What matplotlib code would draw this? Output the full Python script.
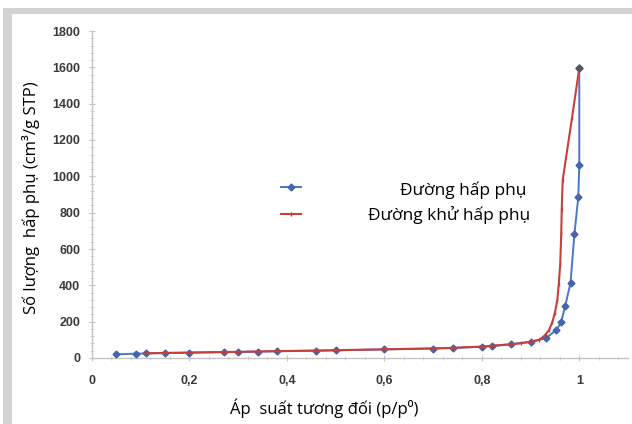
import matplotlib
matplotlib.use('Agg')
from matplotlib import pyplot as plt
from matplotlib.patches import Rectangle
from matplotlib.ticker import MultipleLocator, FuncFormatter

# Đường hấp phụ (adsorption)
ads_x = [0.05, 0.09, 0.11, 0.15, 0.20, 0.27, 0.30, 0.34, 0.38, 0.46, 0.50, 0.60,
         0.70, 0.74, 0.80, 0.82, 0.86, 0.90, 0.932, 0.953, 0.963, 0.971, 0.982,
         0.990, 0.998, 1.0, 1.0]
ads_y = [20, 24, 25, 27, 29, 32, 33, 35, 37, 40, 42, 47,
         52, 55, 62, 66, 75, 88, 110, 154, 198, 286, 413,
         682, 886, 1062, 1596]

# Đường khử hấp phụ (desorption)
des_x = [1.0, 0.985, 0.966, 0.964, 0.963, 0.961, 0.958, 0.955, 0.950, 0.945,
         0.938, 0.930, 0.918, 0.90, 0.88, 0.86, 0.82, 0.80, 0.74, 0.70, 0.60,
         0.50, 0.46, 0.38, 0.34, 0.30, 0.27, 0.20, 0.15, 0.11]
des_y = [1596, 1320, 980, 820, 688, 520, 410, 320, 250, 200,
         154, 126, 100, 90, 82, 76, 67, 63, 56, 53, 48,
         43, 41, 38, 36, 34, 33, 30, 28, 26]

labels = ['Đường hấp phụ', 'Đường khử hấp phụ']

plt.rcParams['font.family'] = ['Open Sans', 'DejaVu Sans']

fig = plt.figure(figsize=(6.32, 4.24), dpi=100)
# khung xám quanh biểu đồ
fig.patches.append(Rectangle((3 / 632, 0), 1, 1 - 8 / 424, transform=fig.transFigure,
                             facecolor='#d3d3d3', edgecolor='none', zorder=-2))
fig.patches.append(Rectangle((12 / 632, 0), 1, 1 - 14 / 424, transform=fig.transFigure,
                             facecolor='white', edgecolor='none', zorder=-1))

ax = fig.add_axes([92 / 632, 1 - 358 / 424, 536 / 632, 327 / 424])
ax.set_zorder(2)
ax.set_facecolor('none')

l1, = ax.plot(ads_x, ads_y, color='#4a78c8', lw=1.4, marker='D', ms=3.5,
              mfc='#4466aa', mec='#4466aa', zorder=3, clip_on=False)
l2, = ax.plot(des_x, des_y, color='#c8403a', lw=1.5, marker='|', ms=3,
              mec='#b84040', zorder=4, clip_on=False)
ax.plot([1.0], [1596], marker='D', ms=3.5, color='#555566', zorder=5)

ax.set_xlim(0, 1.1)
ax.set_ylim(0, 1800)
ax.xaxis.set_major_locator(MultipleLocator(0.2))
ax.xaxis.set_minor_locator(MultipleLocator(0.04))
ax.yaxis.set_major_locator(MultipleLocator(200))
ax.yaxis.set_minor_locator(MultipleLocator(40))
ax.xaxis.set_major_formatter(FuncFormatter(
    lambda v, p: '' if v > 1.05 else ('%g' % round(v, 1)).replace('.', ',')))

for s in ['top', 'right']:
    ax.spines[s].set_visible(False)
for s in ['left', 'bottom']:
    ax.spines[s].set_color('#c4c4c4')
    ax.spines[s].set_linewidth(1.0)

ax.tick_params(axis='both', which='major', direction='inout', length=5,
               color='#c4c4c4', labelsize=9, labelcolor='#3a3a3a')
ax.tick_params(axis='y', which='major', pad=6)
ax.tick_params(axis='x', which='major', pad=10)
ax.tick_params(axis='both', which='minor', direction='inout', length=2.5,
               color='#cccccc')
for t in ax.get_xticklabels() + ax.get_yticklabels():
    t.set_fontweight('bold')
    t.set_family(['Liberation Sans', 'DejaVu Sans'])

ax.set_xlabel('Áp  suất tương đối (p/p⁰)', fontsize=12)
ax.xaxis.set_label_coords(0.433, -0.125)
ax.set_ylabel('Số lượng  hấp phụ (cm³/g STP)', fontsize=12)
ax.yaxis.set_label_coords(-0.097, 0.49)

leg = ax.legend([l1, l2], ['', ''], loc='upper left',
                bbox_to_anchor=(0.33, 0.58), frameon=False,
                handlelength=1.4, labelspacing=0.9)
fig.text(527 / 632, 1 - 190 / 424, labels[0], ha='right', va='center', fontsize=12.5)
fig.text(530 / 632, 1 - 215 / 424, labels[1], ha='right', va='center', fontsize=12.5)

fig.savefig('out.png', dpi=100)
